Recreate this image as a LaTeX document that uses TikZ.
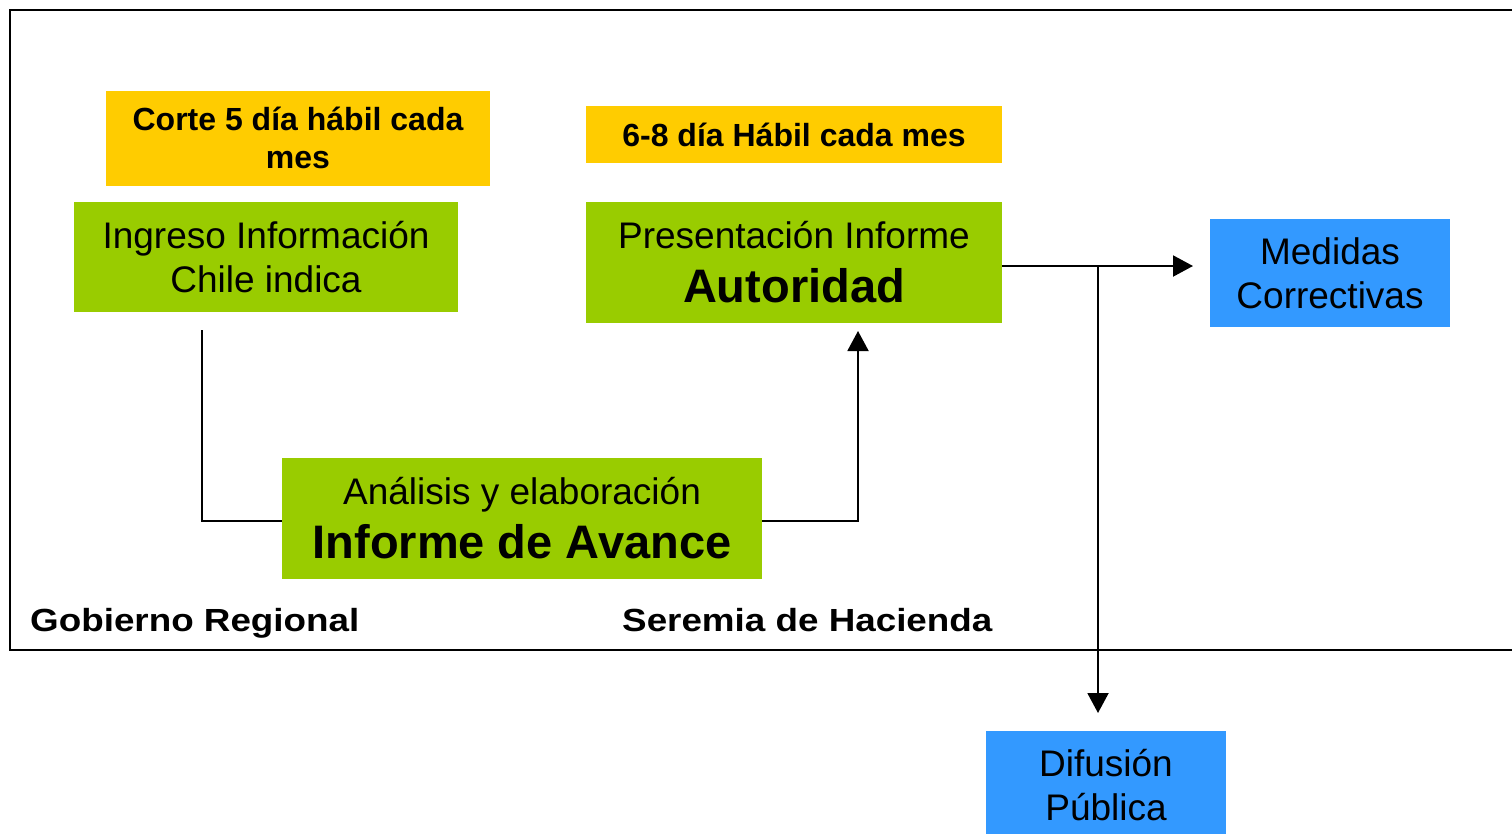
\documentclass[tikz,border=0pt]{standalone}
\usepackage{fontspec}
\setmainfont{Liberation Sans}
\usetikzlibrary{arrows.meta}
\definecolor{naranja}{HTML}{FFCC00}
\definecolor{verde}{HTML}{99CC00}
\definecolor{azul}{HTML}{3399FF}
\tikzset{
	caja/.style={inner sep=0pt,align=center,text=black},
	fecha/.style={caja,fill=naranja,font=\fontsize{32}{37}\selectfont\bfseries},
	proceso/.style={caja,fill=verde,font=\fontsize{37}{43}\selectfont},
	destino/.style={caja,fill=azul,font=\fontsize{37}{43}\selectfont},
	zona/.style={anchor=base west,inner sep=0pt,font=\fontsize{32}{37}\selectfont\bfseries\addfontfeature{FakeStretch=1.15}},
	linea/.style={line width=2pt},
	flecha/.style={linea,-{Triangle[length=20pt,width=21pt]}}
}

\begin{document}
\begin{tikzpicture}[x=1pt,y=-1pt]
	\useasboundingbox (0,0) rectangle (1512,833);
	\draw[linea] (10,10) rectangle (1540,650);

	\node[fecha,minimum width=384pt,minimum height=95pt](corte) at (298,138) {Corte 5 día hábil cada\\[1pt]mes};
	\node[fecha,minimum width=416pt,minimum height=57pt](plazo) at (794,134.5) {6-8 día Hábil cada mes};
	\node[proceso,minimum width=384pt,minimum height=110pt](ingreso) at (266,257) {Ingreso Información\\[1pt]Chile indica};
	\node[proceso,minimum width=416pt,minimum height=121pt](presentacion) at (794,262.5) {Presentación Informe\\[11pt]{\fontsize{47}{55}\selectfont\bfseries Autoridad}};
	\node[proceso,minimum width=480pt,minimum height=121pt](analisis) at (522,518.5) {Análisis y elaboración\\[11pt]{\fontsize{47}{55}\selectfont\bfseries Informe de Avance}};
	\node[destino,minimum width=240pt,minimum height=108pt](medidas) at (1330,273) {Medidas\\[1pt]Correctivas};
	\node[destino,minimum width=240pt,minimum height=110pt](difusion) at (1106,785.5) {Difusión\\[1pt]Pública};

	\node[zona](gobierno) at (30,631) {Gobierno Regional};
	\node[zona](seremia) at (622,631) {Seremia de Hacienda};

	\coordinate (inicio) at (202,330);
	\coordinate (subida) at (858,331);
	\coordinate (hacia) at (1193,266);
	\coordinate (cruce) at (1098,266);
	\coordinate (bajada) at (1098,713);

	\draw[linea] (inicio) |- ([yshift=-2.5pt]analisis.west);
	\draw[flecha] ([yshift=-2.5pt]analisis.east) -| (subida);
	\draw[flecha] (presentacion.east |- hacia) -- (hacia);
	\draw[flecha] (cruce) -- (bajada);
\end{tikzpicture}
\end{document}
